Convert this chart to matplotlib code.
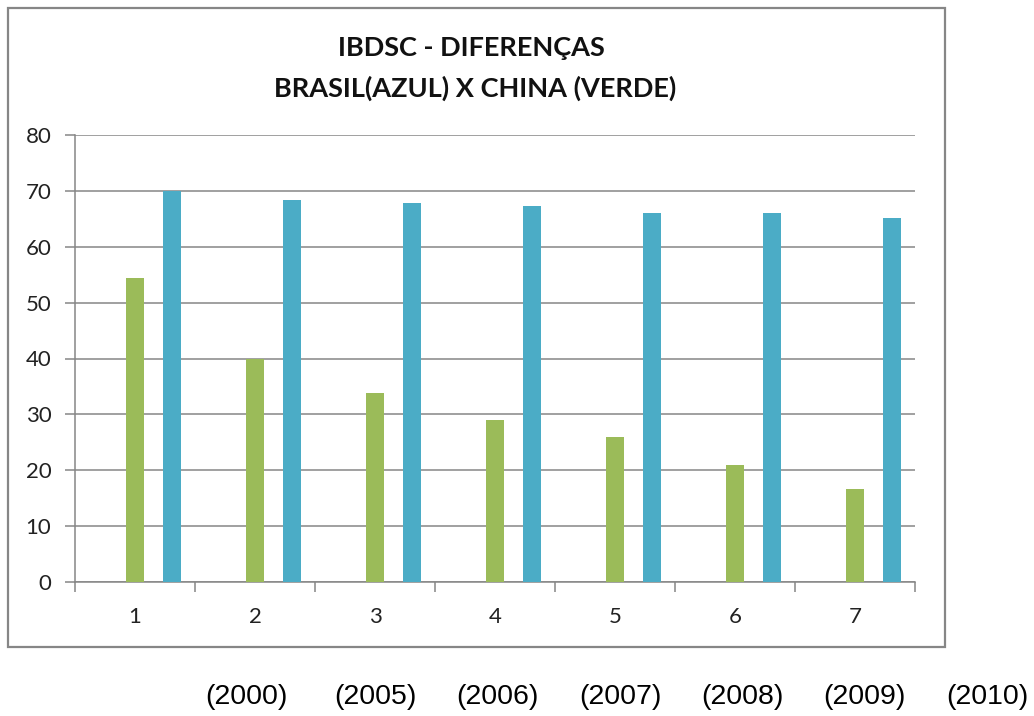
import matplotlib
matplotlib.use('Agg')
import matplotlib.pyplot as plt
from matplotlib.patches import Rectangle
import numpy as np

# data
categories = ['1', '2', '3', '4', '5', '6', '7']
china = [54.4, 40.0, 33.9, 29.0, 26.0, 21.0, 16.7]     # verde
brasil = [70.0, 68.4, 67.9, 67.3, 66.1, 66.1, 65.2]   # azul
years = ['(2000)', '(2005)', '(2006)', '(2007)', '(2008)', '(2009)', '(2010)']
year_x = [246, 375, 497, 620, 742, 864, 987]  # pixel centres under the chart

GREEN = '#9BBB59'
BLUE = '#4BACC6'
GRID = '#868686'

W, H = 1034, 716
fig = plt.figure(figsize=(W / 100, H / 100), dpi=100)
fig.patch.set_facecolor('white')

# outer chart frame
fig.patches.append(Rectangle((8 / W, 1 - 647 / H), 937 / W, 639 / H,
                             transform=fig.transFigure, fill=False,
                             edgecolor=GRID, lw=1.6))

ax = fig.add_axes([75 / W, 1 - 582 / H, 840 / W, 447 / H])
x = np.arange(len(categories))
bw = 0.15
ax.bar(x, china, bw, color=GREEN, zorder=3)
ax.bar(x + 0.308, brasil, bw, color=BLUE, zorder=3)

ax.set_xlim(-0.5, len(categories) - 0.5)
ax.set_ylim(0, 80)
ax.set_yticks(range(0, 81, 10))
ax.yaxis.grid(True, color=GRID, lw=1.1, zorder=0)

ax.set_xticks(x)
ax.set_xticklabels(categories)
ax.set_xticks(np.arange(-0.5, len(categories) + 0.5, 1), minor=True)
ax.tick_params(axis='x', which='major', length=0, pad=18)
ax.tick_params(axis='x', which='minor', length=7, width=1.1, color=GRID,
               direction='out')
ax.tick_params(axis='y', length=7, width=1.1, color=GRID, direction='out', pad=10)
for lab in ax.get_xticklabels() + ax.get_yticklabels():
    lab.set_fontfamily('Lato')
    lab.set_fontsize(16)
    lab.set_color('#222222')

for s in ('top', 'right'):
    ax.spines[s].set_visible(False)
for s in ('left', 'bottom'):
    ax.spines[s].set_color(GRID)
    ax.spines[s].set_linewidth(1.1)

fig.text(471 / W, 1 - 48 / H, 'IBDSC - DIFERENÇAS', ha='center', va='center',
         fontsize=19.5, fontweight='bold', family='Lato', color='#111111')
fig.text(475 / W, 1 - 88 / H, 'BRASIL(AZUL) X CHINA (VERDE)', ha='center',
         va='center', fontsize=19.5, fontweight='bold', family='Lato',
         color='#111111')

for yr, px in zip(years, year_x):
    fig.text(px / W, 1 - 697 / H, yr, ha='center', va='center', fontsize=20.5,
             family='Liberation Sans', color='black')

fig.savefig('out.png', dpi=100)
